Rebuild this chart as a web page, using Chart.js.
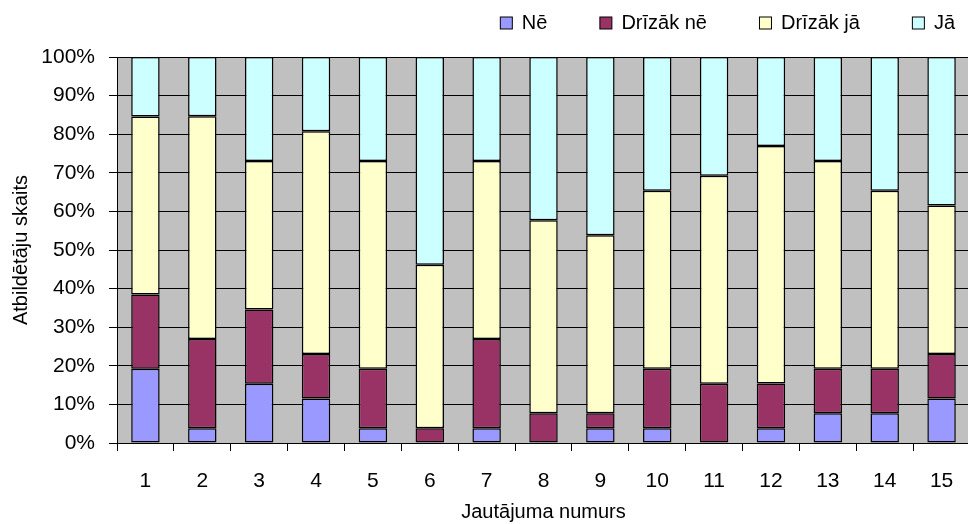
<!DOCTYPE html>
<html>
<head>
<meta charset="utf-8">
<script src="https://cdn.jsdelivr.net/npm/chart.js@4.4.1/dist/chart.umd.min.js"></script>
<style>
  html, body { margin: 0; padding: 0; background: #fff; overflow: hidden; }
  #wrap { position: relative; width: 974px; height: 524px; }
</style>
</head>
<body>
<div id="wrap"><canvas id="c"></canvas></div>
<script>
// ---- data (percent of respondents) ----
const categories = ['1','2','3','4','5','6','7','8','9','10','11','12','13','14','15'];
const seriesNames = ['Nē', 'Drīzāk nē', 'Drīzāk jā', 'Jā'];
const ne        = [19.23, 3.85, 15.38, 11.54, 3.85, 0, 3.85, 0, 3.85, 3.85, 0, 3.85, 7.69, 7.69, 11.54];
const drizakNe  = [19.23, 23.08, 19.23, 11.54, 15.38, 3.85, 23.08, 7.69, 3.85, 15.38, 15.38, 11.54, 11.54, 11.54, 11.54];
const drizakJa  = [46.15, 57.69, 38.46, 57.69, 53.85, 42.31, 46.15, 50.00, 46.15, 46.15, 53.85, 61.54, 53.85, 46.15, 38.46];
const ja        = [15.38, 15.38, 26.92, 19.23, 26.92, 53.85, 26.92, 42.31, 46.15, 34.62, 30.77, 23.08, 26.92, 34.62, 38.46];
const yTicks    = [0, 10, 20, 30, 40, 50, 60, 70, 80, 90, 100];
const xTitle = 'Jautājuma numurs';
const yTitle = 'Atbildētāju skaits';

const colors = ['#9999FF', '#993366', '#FFFFCC', '#CCFFFF'];
const FONT = '"Liberation Sans", Arial, sans-serif';
const seriesValues = [ne, drizakNe, drizakJa, ja];

const plotBg = {
  id: 'plotBg',
  beforeDraw(chart) {
    const {ctx, chartArea: a} = chart;
    ctx.save();
    ctx.fillStyle = '#C0C0C0';
    ctx.fillRect(a.left, a.top, a.right - a.left, a.bottom - a.top);
    ctx.restore();
  }
};

const customLegend = {
  id: 'customLegend',
  afterDraw(chart) {
    const ctx = chart.ctx;
    ctx.save();
    ctx.font = '20px ' + FONT;
    const box = 13, gapBT = 9, gapItems = 52, rightEnd = 955, cy = 23;
    const items = chart.data.datasets.map(d => ({label: d.label, color: d.backgroundColor, w: ctx.measureText(d.label).width}));
    let total = 0;
    items.forEach((it, i) => { total += box + gapBT + it.w + (i ? gapItems : 0); });
    let x = rightEnd - total;
    items.forEach(it => {
      ctx.fillStyle = it.color;
      ctx.fillRect(x + 0.5, cy - box / 2 + 0.5, box - 1, box - 1);
      ctx.strokeStyle = '#000';
      ctx.lineWidth = 1;
      ctx.strokeRect(x + 0.5, cy - box / 2 + 0.5, box - 1, box - 1);
      ctx.fillStyle = '#000';
      ctx.textBaseline = 'middle';
      ctx.textAlign = 'left';
      ctx.fillText(it.label, x + box + gapBT, cy);
      x += box + gapBT + it.w + gapItems;
    });
    ctx.restore();
  }
};

new Chart(document.getElementById('c'), {
  type: 'bar',
  data: {
    labels: categories,
    datasets: seriesNames.map((name, i) => ({
      label: name,
      data: seriesValues[i],
      backgroundColor: colors[i],
      borderColor: '#000',
      borderWidth: 1.5,
      borderSkipped: false,
      barPercentage: 0.5,
      categoryPercentage: 1.0
    }))
  },
  options: {
    responsive: true,
    maintainAspectRatio: false,
    animation: false,
    devicePixelRatio: 1,
    layout: { padding: { top: 57, right: 4, bottom: 0, left: 0 } },
    plugins: {
      legend: { display: false },
      tooltip: { enabled: false }
    },
    scales: {
      x: {
        stacked: true,
        offset: true,
        grid: { offset: true, drawOnChartArea: false, drawTicks: true, tickLength: 8, color: '#000', lineWidth: 1 },
        border: { display: true, color: '#000', width: 1 },
        ticks: { color: '#000', font: { family: FONT, size: 21 }, padding: 18, maxRotation: 0, autoSkip: false },
        title: { display: true, text: xTitle, color: '#000', font: { family: FONT, size: 20 }, padding: { top: 0, bottom: 0 } },
        afterFit(s) { s.height = 81; }
      },
      y: {
        stacked: true,
        min: 0,
        max: 100,
        afterBuildTicks(s) { s.ticks = yTicks.map(v => ({ value: v })); },
        grid: { drawTicks: true, tickLength: 8, color: '#000', lineWidth: 1 },
        border: { display: true, color: '#000', width: 1 },
        ticks: { color: '#000', font: { family: FONT, size: 21 }, padding: 14, callback: v => v + '%' },
        title: { display: true, text: yTitle, color: '#000', font: { family: FONT, size: 20 }, padding: { top: 9, bottom: 0 } },
        afterFit(s) { s.width = 117; }
      }
    }
  },
  plugins: [plotBg, customLegend]
});
</script>
</body>
</html>
